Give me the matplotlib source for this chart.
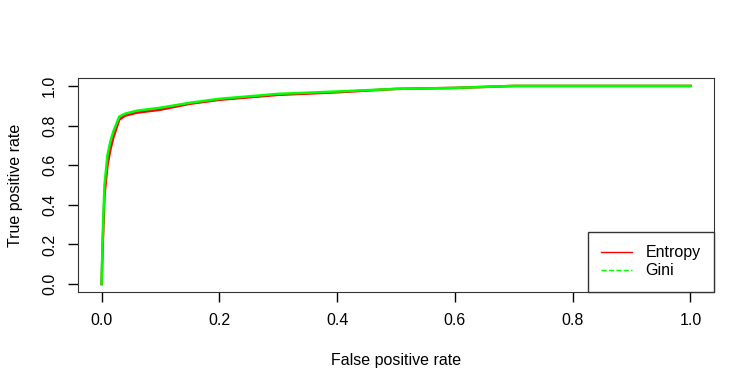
import matplotlib.pyplot as plt
import numpy as np

plt.rcParams['font.family'] = ['Liberation Sans', 'DejaVu Sans']

# ROC points
fpr_entropy = [0.0, 0.002, 0.005, 0.01, 0.015, 0.02, 0.03, 0.04, 0.06, 0.1, 0.15, 0.2, 0.3, 0.4, 0.5, 0.6, 0.65, 0.7, 1.0]
tpr_entropy = [0.0, 0.2, 0.45, 0.6, 0.68, 0.74, 0.83, 0.85, 0.865, 0.88, 0.91, 0.93, 0.955, 0.968, 0.985, 0.99, 0.995, 1.0, 1.0]
fpr_gini = [0.0, 0.002, 0.005, 0.01, 0.015, 0.02, 0.03, 0.04, 0.06, 0.1, 0.15, 0.2, 0.3, 0.4, 0.5, 0.6, 0.65, 0.7, 1.0]
tpr_gini = [0.0, 0.25, 0.5, 0.65, 0.72, 0.77, 0.845, 0.86, 0.875, 0.89, 0.915, 0.935, 0.96, 0.972, 0.985, 0.99, 0.995, 1.0, 1.0]
ticks = [0.0, 0.2, 0.4, 0.6, 0.8, 1.0]

fig = plt.figure(figsize=(7.55, 3.9), dpi=100)
ax = fig.add_axes([78/755, 98/390, 636/755, 214/390])

ax.plot(fpr_entropy, tpr_entropy, color='#ff0000', lw=1.8)
ax.plot(fpr_gini, tpr_gini, color='#00ff00', lw=1.8)

ax.set_xlim(-0.04, 1.04)
ax.set_ylim(-0.04, 1.04)
ax.set_xticks(ticks)
ax.set_yticks(ticks)
ax.set_xticklabels([f'{t:.1f}' for t in ticks], fontsize=11.5)
ax.set_yticklabels([f'{t:.1f}' for t in ticks], fontsize=11.5, rotation=90, va='center')
ax.tick_params(direction='out', length=7, width=1, pad=8)
for s in ax.spines.values():
    s.set_color('#333333')

ax.set_xlabel('False positive rate', fontsize=11.5, labelpad=18)
ax.set_ylabel('True positive rate', fontsize=11.5, labelpad=14)

h1, = ax.plot([], [], color='#ff0000', lw=1, label='Entropy')
h2, = ax.plot([], [], color='#00ff00', lw=1, ls='--', label='Gini')
leg = ax.legend(handles=[h1, h2], loc='lower right', borderaxespad=0, fancybox=False,
                edgecolor='#333333', fontsize=11.5, handlelength=1.9, framealpha=1,
                borderpad=0.85, labelspacing=0.2, handletextpad=0.85)
leg.get_frame().set_linewidth(1)

fig.savefig('out.png', dpi=100)
